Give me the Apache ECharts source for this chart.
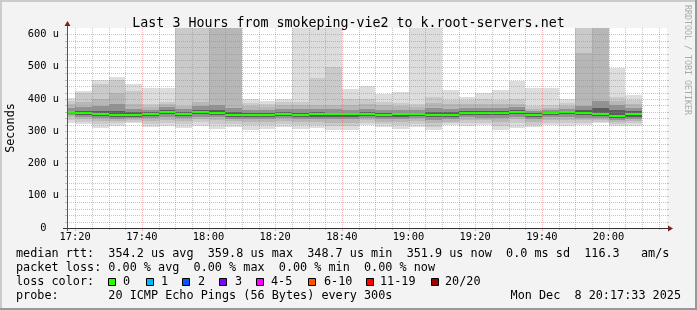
<!DOCTYPE html>
<html><head><meta charset="utf-8">
<script src="https://cdn.jsdelivr.net/npm/echarts@6/dist/echarts.min.js"></script>
<style>html,body{margin:0;padding:0;background:#f3f3f3;}#c{width:697px;height:310px;}</style>
</head><body><div id="c"></div>
<script>
// ---- data (5-minute steps, values in microseconds) ----
const barStart = ['17:15','17:20','17:25','17:30','17:35','17:40','17:45','17:50','17:55','18:00',
  '18:05','18:10','18:15','18:20','18:25','18:30','18:35','18:40','18:45','18:50',
  '18:55','19:00','19:05','19:10','19:15','19:20','19:25','19:30','19:35','19:40',
  '19:45','19:50','19:55','20:00','20:05'];
// ping ranks: max / 2nd / 3rd / upper-mid / upper-core
const pingMax = [402,426,460,468,446,435,435,700,700,700,700,400,395,400,700,700,700,432,440,415,422,700,700,428,407,420,428,455,435,435,400,700,700,497,412];
const pingHi2 = [395,418,446,458,426,385,390,690,690,695,695,388,385,390,392,465,500,400,400,392,388,385,407,397,398,400,398,400,378,380,387,690,695,407,396];
const pingHi3 = [385,392,400,420,385,374,383,378,392,690,690,378,375,380,380,382,380,380,385,380,377,376,388,383,383,385,385,385,370,372,378,541,690,395,384];
const pingHi4 = [372,375,378,385,370,366,375,368,378,381,372,366,365,368,368,370,368,367,370,367,366,366,372,370,372,372,372,375,362,365,370,378,395,380,372];
const pingHi5 = [364,364,362,362,360,359,367,360,367,366,360,357,357,360,358,360,358,358,360,357,358,358,360,360,363,362,362,366,356,360,364,365,372,365,362];
const medianRtt = [359.5,357.3,352.9,351.0,351.0,352.9,359.7,353.5,359.7,356.6,350.4,351.4,351.4,352.6,351.4,352.6,352.6,352.6,353.5,350.4,
  352.6,353.5,350.4,351.4,355.7,355.7,355.7,358.8,350.4,355.7,358.8,355.7,352.6,348.7,351.9];
const pingLo5 = [355,350,346,345,345,347,352,347,352,350,345,345,345,346,345,345,345,345,347,344,345,347,343,345,349,349,349,352,344,349,352,349,346,342,345];
const pingLo4 = [350,344,340,339,340,340,345,341,345,343,339,338,338,340,338,338,337,337,341,337,338,340,335,338,343,342,340,345,337,343,345,342,340,336,339];
const pingLo3 = [343,337,332,332,335,333,335,333,337,334,331,328,329,332,329,330,327,327,334,330,329,332,325,330,335,334,330,337,329,336,336,334,334,329,332];
const pingLo2 = [335,330,322,324,330,322,325,323,328,322,322,318,318,323,318,320,315,315,326,322,318,323,314,324,325,325,316,325,320,327,325,326,330,322,324];
const pingMin = [325,322,310,315,326,312,315,310,317,308,312,305,307,314,306,310,303,303,318,313,308,314,303,320,315,318,304,311,313,318,315,318,325,316,317];

const timeStart = '17:17:33', timeEnd = '20:17:33';
const xTickLabels = ['17:20','17:40','18:00','18:20','18:40','19:00','19:20','19:40','20:00'];
const yTickValues = [0,100,200,300,400,500,600];
const yMax = 620;
const lossLabels = ['0','1','2','3','4-5','6-10','11-19','20/20'];
const lossColors = ['#26ff00','#00b8ff','#0059ff','#7e00ff','#ff00ff','#ff5500','#ff0000','#a00000'];
const bandColors = ['#dddddd','#cacaca','#b7b7b7','#929292','#5c5c5c'];

const legendLine1 = 'median rtt:  354.2 us avg  359.8 us max  348.7 us min  351.9 us now  0.0 ms sd  116.3   am/s';
const legendLine2 = 'packet loss: 0.00 % avg  0.00 % max  0.00 % min  0.00 % now';
const legendLine3 = 'loss color:';
const legendLine4 = 'probe:       20 ICMP Echo Pings (56 Bytes) every 300s';
const stampText = 'Mon Dec  8 20:17:33 2025';
const titleText = 'Last 3 Hours from smokeping-vie2 to k.root-servers.net';

// ---- helpers ----
function toMin(s){const p=s.split(':').map(Number);return p[0]*60+p[1]+(p[2]||0)/60;}
function fmtMin(m){const h=Math.floor(m/60),mm=Math.round(m%60);return (h<10?'0':'')+h+':'+(mm<10?'0':'')+mm;}
const xMin = toMin(timeStart), xMax = toMin(timeEnd);
const MONO = "'DejaVu Sans Mono', monospace";
const MINOR = 'rgba(140,140,140,0.5)';
const MAJOR = 'rgba(225,80,80,0.42)';

const smokeData = barStart.map((s,i)=>[toMin(s), toMin(s)+5,
  pingMin[i], pingLo2[i], pingLo3[i], pingLo4[i], pingLo5[i],
  pingHi5[i], pingHi4[i], pingHi3[i], pingHi2[i], pingMax[i], medianRtt[i]]);

const vLines = []; for (let t = toMin(xTickLabels[0]); t <= xMax; t += 5) vLines.push([t, 0, (Math.round(t) % 20 === 0) ? 1 : 0]);
const hLines = []; for (let v = 20; v <= 600; v += 20) hLines.push([xMin, v, (v % 100 === 0) ? 1 : 0]);

function renderSmoke(params, api){
  const cs = params.coordSys;
  const x0 = api.value(0), x1 = api.value(1);
  const children = [];
  for (let k = 0; k < 5; k++){
    const lo = api.value(2+k), hi = api.value(11-k);
    const p0 = api.coord([x0, hi]), p1 = api.coord([x1, lo]);
    const rx = Math.round(p0[0]), ry = Math.round(p0[1]);
    const r = echarts.graphic.clipRectByRect({x:rx, y:ry, width:Math.round(p1[0])-rx, height:Math.round(p1[1])-ry}, cs);
    if (r) children.push({type:'rect', shape:r, style:{fill:bandColors[k]}});
  }
  const pm = api.coord([x0, api.value(12)]), pe = api.coord([x1, api.value(12)]);
  const mx = Math.round(pm[0]);
  const mr = echarts.graphic.clipRectByRect({x:mx, y:Math.round(pm[1]-1), width:Math.round(pe[0])-mx, height:2}, cs);
  if (mr) children.push({type:'rect', shape:mr, style:{fill:lossColors[0]}});
  return {type:'group', children};
}
function renderV(params, api){
  const cs = params.coordSys;
  const x = Math.round(api.coord([api.value(0), 0])[0]) + 0.5;
  const major = api.value(2) === 1;
  const col = major ? MAJOR : MINOR;
  const ch = [{type:'line', shape:{x1:x, y1:cs.y, x2:x, y2:cs.y+cs.height}, style:{stroke:col, lineWidth:1, lineDash:[1,1]}}];
  ch.push({type:'line', shape:{x1:x, y1:cs.y+cs.height, x2:x, y2:cs.y+cs.height+(major?3:2)}, style:{stroke:col, lineWidth:1}});
  return {type:'group', children:ch};
}
function renderH(params, api){
  const cs = params.coordSys;
  const y = Math.round(api.coord([api.value(0), api.value(1)])[1]) + 0.5;
  const major = api.value(2) === 1;
  const col = major ? MAJOR : MINOR;
  return {type:'group', children:[
    {type:'line', shape:{x1:cs.x, y1:y, x2:cs.x+cs.width, y2:y}, style:{stroke:col, lineWidth:1, lineDash:[1,1]}},
    {type:'line', shape:{x1:cs.x-2, y1:y, x2:cs.x, y2:y}, style:{stroke:col, lineWidth:1}},
    {type:'line', shape:{x1:cs.x+cs.width, y1:y, x2:cs.x+cs.width+2, y2:y}, style:{stroke:col, lineWidth:1}}
  ]};
}

const GL = 67, GT = 28, GW = 600, GH = 200;
const graphics = [
  {type:'rect', shape:{x:0,y:0,width:697,height:2}, style:{fill:'#cbcbcb'}, silent:true},
  {type:'rect', shape:{x:0,y:0,width:2,height:310}, style:{fill:'#cbcbcb'}, silent:true},
  {type:'rect', shape:{x:0,y:308,width:697,height:2}, style:{fill:'#999999'}, silent:true},
  {type:'rect', shape:{x:695,y:0,width:2,height:310}, style:{fill:'#999999'}, silent:true},
  // axis extensions and arrows
  {type:'line', shape:{x1:GL+0.5,y1:GT-3,x2:GL+0.5,y2:GT}, style:{stroke:'#555',lineWidth:1}, z:20},
  {type:'line', shape:{x1:GL+0.5,y1:GT+GH,x2:GL+0.5,y2:GT+GH+3}, style:{stroke:'#555',lineWidth:1}, z:20},
  {type:'line', shape:{x1:GL-4,y1:GT+GH+0.5,x2:GL,y2:GT+GH+0.5}, style:{stroke:'#333',lineWidth:1}, z:20},
  {type:'line', shape:{x1:GL+GW,y1:GT+GH+0.5,x2:GL+GW+2,y2:GT+GH+0.5}, style:{stroke:'#333',lineWidth:1}, z:20},
  {type:'polygon', shape:{points:[[GL-2.5,GT-2],[GL+3.5,GT-2],[GL+0.5,GT-7]]}, style:{fill:'#7f1f1f'}, z:20},
  {type:'polygon', shape:{points:[[GL+GW+1,GT+GH-2.5],[GL+GW+1,GT+GH+3.5],[GL+GW+6,GT+GH+0.5]]}, style:{fill:'#7f1f1f'}, z:20},
  // y title
  {type:'text', x:11, y:128, rotation:Math.PI/2, style:{text:'Seconds', font:'11.8px '+MONO, fill:'#000', textAlign:'center', textVerticalAlign:'middle', align:'center', verticalAlign:'middle'}},
  // watermark
  {type:'text', x:687, y:60, rotation:-Math.PI/2, style:{text:'RRDTOOL / TOBI OETIKER', font:'8.3px '+MONO, fill:'#aaaaaa', textAlign:'center', textVerticalAlign:'middle', align:'center', verticalAlign:'middle'}},
];
const legendY = [253.5, 267.5, 281.5, 295.5];
[legendLine1, legendLine2, legendLine3, legendLine4].forEach((t,i)=>{
  graphics.push({type:'text', x:16, y:legendY[i], style:{text:t, font:'11.8px '+MONO, fill:'#000', textAlign:'left', textVerticalAlign:'middle', align:'left', verticalAlign:'middle'}});
});
graphics.push({type:'text', x:681, y:legendY[3], style:{text:stampText, font:'11.8px '+MONO, fill:'#000', textAlign:'right', textVerticalAlign:'middle', align:'right', verticalAlign:'middle'}});
const boxX = [108,146,182,219,256,308,366,431];
const labX = [123,161,198,235,271,324,380,445];
lossLabels.forEach((l,i)=>{
  graphics.push({type:'rect', shape:{x:boxX[i]+0.5, y:278.5, width:7, height:7}, style:{fill:lossColors[i], stroke:'#000', lineWidth:1}});
  graphics.push({type:'text', x:labX[i], y:legendY[2], style:{text:l, font:'11.8px '+MONO, fill:'#000', textAlign:'left', textVerticalAlign:'middle', align:'left', verticalAlign:'middle'}});
});

const chart = echarts.init(document.getElementById('c'), null, {renderer:'canvas'});
chart.setOption({
  animation:false,
  backgroundColor:'#f3f3f3',
  title:{text:titleText, left:'center', top:11, textStyle:{fontFamily:MONO, fontSize:13.3, fontWeight:'normal', color:'#000', lineHeight:16}},
  grid:{left:GL, top:GT, width:GW, height:GH, show:true, backgroundColor:'#ffffff', borderWidth:0},
  xAxis:{type:'value', min:xMin, max:xMax, z:10,
    axisLine:{show:true, onZero:false, lineStyle:{color:'#333', width:1}},
    axisTick:{show:false}, splitLine:{show:false},
    axisLabel:{customValues:xTickLabels.map(toMin), formatter:v=>fmtMin(v), fontFamily:MONO, fontSize:10.4, color:'#000', margin:4}},
  yAxis:{type:'value', min:0, max:yMax, z:10,
    axisLine:{show:true, lineStyle:{color:'#555', width:1}},
    axisTick:{show:false}, splitLine:{show:false},
    axisLabel:{customValues:yTickValues, formatter:v=>v===0?'0  ':(v+' u'), fontFamily:MONO, fontSize:10.4, color:'#000', margin:8}},
  series:[
    {type:'custom', name:'smoke', renderItem:renderSmoke, data:smokeData, encode:{x:0, y:12}, z:2, silent:true},
    {type:'custom', name:'vgrid', renderItem:renderV, data:vLines, encode:{x:0, y:1}, z:3, silent:true},
    {type:'custom', name:'hgrid', renderItem:renderH, data:hLines, encode:{x:0, y:1}, z:3, silent:true}
  ],
  graphic:graphics
});
</script></body></html>
